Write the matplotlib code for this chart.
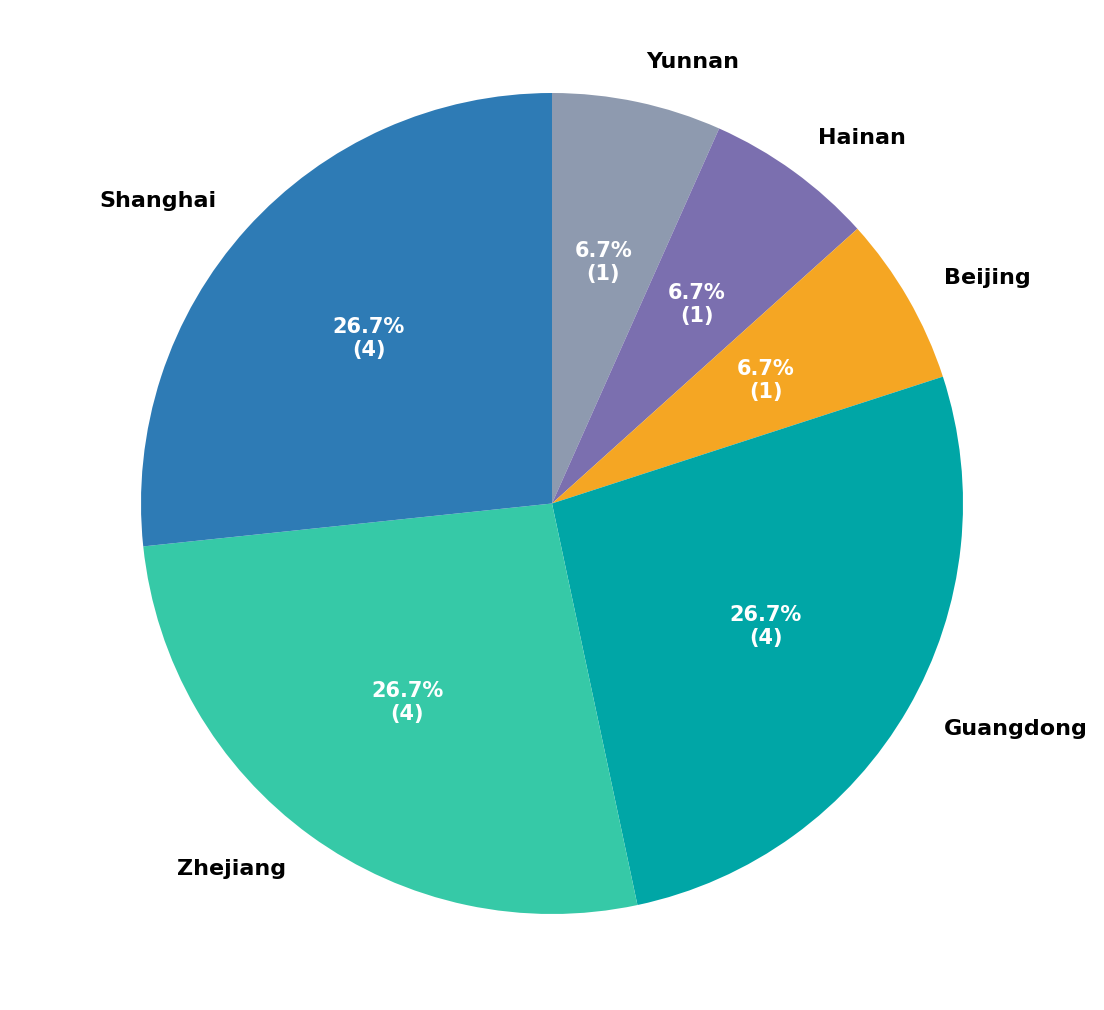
import matplotlib
matplotlib.use("Agg")
import matplotlib.pyplot as plt

plt.rcParams["font.family"] = ["DejaVu Sans"]

labels = ["Yunnan", "Hainan", "Beijing", "Guangdong", "Zhejiang", "Shanghai"]
counts = [1, 1, 1, 4, 4, 4]
colors = ["#8E9AAF", "#7B6FAF", "#F5A623", "#00A6A6", "#36C9A7", "#2E7BB5"]

total = sum(counts)

fig = plt.figure(figsize=(11.04, 10.10), dpi=100)
ax = fig.add_axes([141/1104, (1010-914)/1010, 822/1104, 821/1010])

def fmt(p):
    n = int(round(p * total / 100.0))
    return f"{p:.1f}%\n({n})"

wedges, texts, autotexts = ax.pie(
    counts, labels=labels, colors=colors, startangle=90, counterclock=False,
    autopct=fmt, pctdistance=0.6, labeldistance=1.1,
    textprops=dict(fontsize=16, fontweight="bold", color="black", family="DejaVu Sans"),
)
for t in autotexts:
    t.set_color("white")
    t.set_fontsize(15)
    t.set_fontweight("bold")
ax.set_xlim(-1, 1)
ax.set_ylim(-1, 1)
ax.set_aspect("auto")
fig.savefig("out.png", dpi=100)
